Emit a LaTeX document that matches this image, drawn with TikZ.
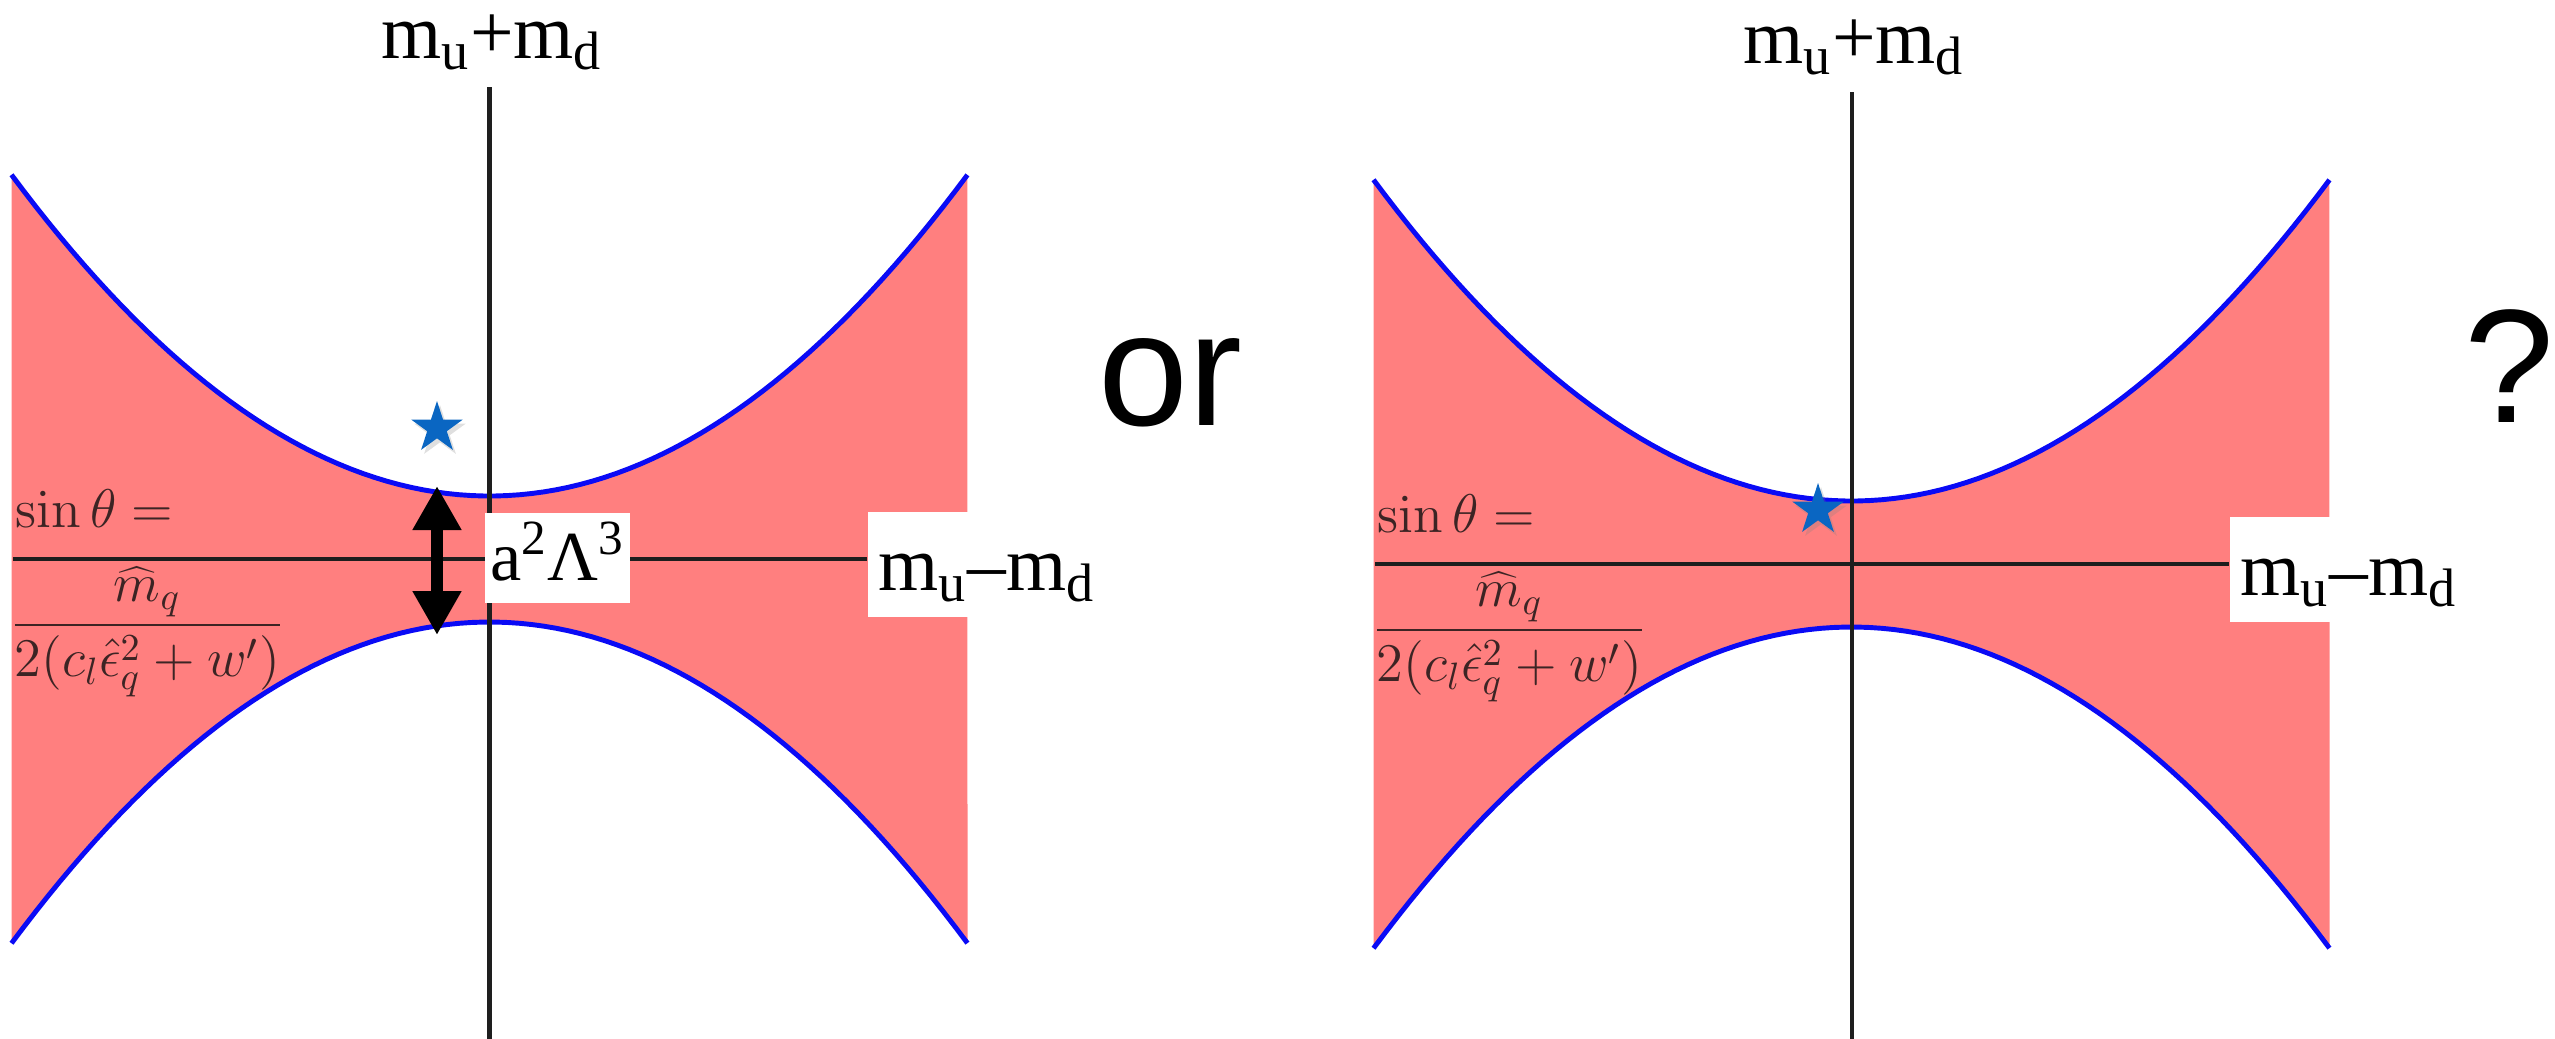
\RequirePackage{fix-cm}
\documentclass[tikz,border=0pt]{standalone}
\usepackage[no-math]{fontspec}
\setmainfont{Liberation Serif}
\newfontfamily\wordfont{Liberation Sans}
\usetikzlibrary{arrows.meta,shapes.geometric,shadows}
\definecolor{bandred}{HTML}{FF7F7F}
\definecolor{rimblue}{HTML}{0A0AF5}
\definecolor{ink}{HTML}{1E1E1E}
\definecolor{starblue}{HTML}{0A66C2}
\definecolor{fmlink}{HTML}{3C2424}

\begin{document}
\begin{tikzpicture}[
    >={Triangle[length=0.44cm,width=0.46cm]},
    line cap=butt, line join=round,
    axis/.style={ink, line width=1.15pt},
    rim/.style={rimblue, line width=1.4pt},
    lbl/.style={font=\rmfamily\fontsize{22}{26}\selectfont, inner sep=0pt},
    boxlbl/.style={lbl, fill=white, inner sep=0pt, inner xsep=0.11cm,
                   text height=0.78cm, text depth=0.27cm},
    fml/.style={fmlink, font=\fontsize{15.5}{18}\selectfont, inner sep=0pt},
    bigword/.style={font=\wordfont\fontsize{46}{54}\selectfont, inner sep=0pt},
    starmark/.style={star, star points=5, star point ratio=2.618,
                     minimum size=0.54cm, inner sep=0pt, fill=starblue,
                     drop shadow={opacity=0.25, shadow xshift=0.03cm, shadow yshift=-0.04cm}},
    gaparrow/.style={black, line width=3.4pt, <->},
]

% ============================================================
% Geometry constants (1 unit = 100 px of the page)
% ============================================================
\def\W{4.78}    % half width of the band
\def\Hc{0.63}   % half gap at the axis
\def\Hk{0.1406} % curvature of the edges

\useasboundingbox (0,0) rectangle (25.55,-10.38);

% ============================================================
% The two panels: band, edges, axes, labels
% ============================================================
\foreach \p/\sx/\sy in {L/0/0, R/13.62/-0.05}{
  \begin{scope}[shift={(\sx,\sy)}]
    \coordinate (O\p) at (4.895,-5.59);
    \begin{scope}[shift={(O\p)}]
      \fill[bandred] plot[domain=-\W:\W, samples=80] (\x, {\Hc+\Hk*\x*\x})
        -- plot[domain=\W:-\W, samples=80] (\x, {-\Hc-\Hk*\x*\x}) -- cycle;
      \draw[rim] plot[domain=-\W:\W, samples=80] (\x, {\Hc+\Hk*\x*\x});
      \draw[rim] plot[domain=-\W:\W, samples=80] (\x, {-\Hc-\Hk*\x*\x});
    \end{scope}

    % axes
    \coordinate (vtop\p) at (4.895,-0.87);
    \coordinate (vbot\p) at (4.895,-10.40);
    \coordinate (hbeg\p) at (0.13,-5.59);
    \coordinate (hend\p) at (8.67,-5.59);
    \draw[axis] (vtop\p) -- (vbot\p);
    \draw[axis] (hbeg\p) -- (hend\p);

    % axis labels
    \node[lbl, anchor=base] (sum\p) at (4.92,-0.58) {m\textsubscript{u}+m\textsubscript{d}};
    \node[boxlbl, anchor=base west] (diff\p) at (8.67,-5.90) {m\textsubscript{u}–m\textsubscript{d}};

    % mixing angle
    \node[fml, anchor=base west] (sin\p) at (0.15,-5.27) {$\sin\theta =$};
    \node[fml, anchor=west] (frac\p) at (0.10,-6.32)
      {$\displaystyle\frac{\widehat{m}_q}{2(c_l\hat{\epsilon}_q^2+w')}$};
  \end{scope}
}

% ============================================================
% Left panel: point off the band, gap a^2 Lambda^3
% ============================================================
\node[starmark] (starL) at (4.37,-4.28) {};
\coordinate (gapTop) at (4.37,-4.86);
\coordinate (gapBot) at (4.37,-6.35);
\draw[gaparrow] (gapTop) -- (gapBot);
\node[lbl, fill=white, anchor=base, minimum width=1.45cm,
      text height=0.67cm, text depth=0.23cm, font=\rmfamily\fontsize{20}{24}\selectfont]
  (gapLbl) at (5.575,-5.80) {a\textsuperscript{2}Λ\textsuperscript{3}};

% ============================================================
% Right panel: point inside the band
% ============================================================
\node[starmark] (starR) at (18.18,-5.10) {};

% words between and after the panels
\node[bigword, anchor=base] (orWord) at (11.70,-4.25) {or};
\node[bigword, anchor=base] (qmark) at (25.09,-4.22) {?};

\end{tikzpicture}
\end{document}
